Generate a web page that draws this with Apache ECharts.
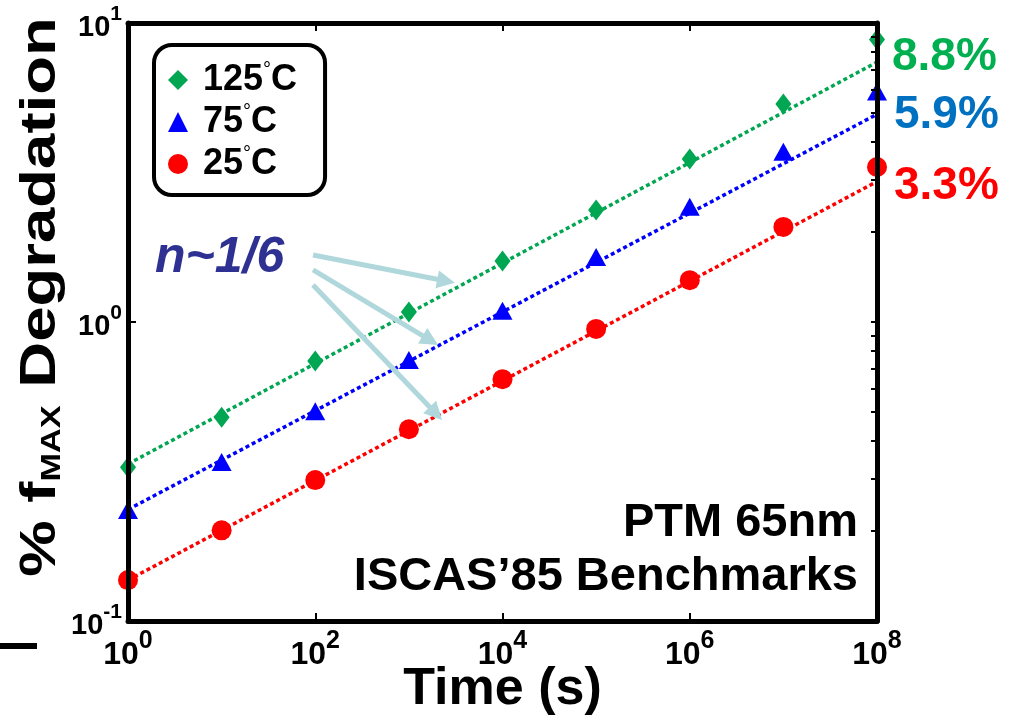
<!DOCTYPE html>
<html>
<head>
<meta charset="utf-8">
<script src="https://cdn.jsdelivr.net/npm/echarts@6/dist/echarts.min.js"></script>
<style>
  html, body { margin: 0; padding: 0; background: #fff; }
  #chart { width: 1017px; height: 716px; }
</style>
</head>
<body>
<div id="chart"></div>
<script>
// Stress time (s) and measured fMAX degradation (%) per temperature
const times = [1, 1e1, 1e2, 1e3, 1e4, 1e5, 1e6, 1e7, 1e8];
const deg125 = [0.327, 0.48, 0.741, 1.08, 1.6, 2.37, 3.51, 5.36, 8.8];
const deg75 = [0.235, 0.34, 0.503, 0.746, 1.09, 1.65, 2.43, 3.71, 5.9];
const deg25 = [0.137, 0.201, 0.296, 0.438, 0.644, 0.948, 1.38, 2.08, 3.3];

// Power-law fits (straight on log-log), given by their end points
const fitTimes = [1, 1e8];
const fit125 = [0.335, 7.4];
const fit75 = [0.236, 4.95];
const fit25 = [0.137, 2.95];

const seriesNames = ['125°C', '75°C', '25°C'];

// Tick values
const xTickValues = [1, 1e2, 1e4, 1e6, 1e8];
const yTickValues = [0.1, 1, 10];
const yMinorTickValues = [0.2, 0.3, 0.4, 0.5, 0.6, 0.7, 0.8, 0.9, 2, 3, 4, 5, 6, 7, 8, 9];

// "n~1/6" pointer arrows: start and head points in data coordinates [time, %]
const arrowStarts = [[94.7, 1.675], [94.7, 1.493], [94.7, 1.33]];
const arrowHeads = [[2496, 1.371], [1698, 0.868], [1942, 0.494]];

const FONT = '"Liberation Sans", Arial, Helvetica, sans-serif';
const GREEN = '#00a651';
const BLUE = '#0000ff';
const RED = '#ff0000';

function pairs(xs, ys) {
  return xs.map((x, i) => [x, ys[i]]);
}

// last point carries its value as a percentage label
function markerData(ys, labelColor, offset) {
  const d = pairs(times, ys);
  const last = d.length - 1;
  d[last] = {
    value: d[last],
    label: {
      show: true,
      position: 'right',
      distance: 7,
      offset: offset,
      color: labelColor,
      fontSize: 46,
      fontWeight: 'bold',
      fontFamily: FONT,
      formatter: p => p.value[1] + '%'
    }
  };
  return d;
}

function powLabel(v) {
  const e = Math.round(Math.log10(v));
  return '{b|10}{s|' + e + '}';
}

const chart = echarts.init(document.getElementById('chart'));

const grid = { left: 128, top: 23, width: 749, height: 598, containLabel: false, outerBoundsMode: 'none' };

const logX = { type: 'log', logBase: 10, min: 1, max: 1e8, gridIndex: 0 };
const logY = { type: 'log', logBase: 10, min: 0.1, max: 10, gridIndex: 0 };
const blackLine = { show: true, lineStyle: { color: '#000', width: 5 } };

const fitLineStyle = color => ({ color: color, width: 3.5, type: [4, 3] });

chart.setOption({
  animation: false,
  grid: grid,
  xAxis: [
    Object.assign({}, logX, {
      position: 'bottom',
      z: 10,
      axisLine: blackLine,
      axisTick: { show: true, inside: true, length: 8, lineStyle: { color: '#000', width: 2 }, customValues: xTickValues },
      axisLabel: {
        customValues: xTickValues,
        formatter: powLabel,
        margin: 8,
        rich: {
          b: { fontSize: 32, fontWeight: 'bold', fontFamily: FONT, color: '#000', lineHeight: 42, verticalAlign: 'bottom' },
          s: { fontSize: 25, fontWeight: 'bold', fontFamily: FONT, color: '#000', lineHeight: 42, verticalAlign: 'top' }
        }
      },
      splitLine: { show: false },
      name: 'Time (s)',
      nameLocation: 'middle',
      nameGap: 43,
      nameMoveOverlap: false,
      nameTextStyle: { fontSize: 52, fontWeight: 'bold', fontFamily: FONT, color: '#000' }
    }),
    Object.assign({}, logX, {
      position: 'top',
      z: 10,
      axisLine: blackLine,
      axisTick: { show: true, inside: true, length: 8, lineStyle: { color: '#000', width: 2 }, customValues: xTickValues },
      axisLabel: { show: false },
      splitLine: { show: false }
    })
  ],
  yAxis: [
    Object.assign({}, logY, {
      position: 'left',
      z: 10,
      axisLine: blackLine,
      axisTick: { show: true, inside: true, length: 8, lineStyle: { color: '#000', width: 2 }, customValues: yTickValues },
      axisLabel: {
        customValues: yTickValues,
        formatter: powLabel,
        margin: 6,
        rich: {
          b: { fontSize: 29, fontWeight: 'bold', fontFamily: FONT, color: '#000', lineHeight: 38, verticalAlign: 'bottom' },
          s: { fontSize: 21, fontWeight: 'bold', fontFamily: FONT, color: '#000', lineHeight: 38, verticalAlign: 'top' }
        }
      },
      splitLine: { show: false }
    }),
    Object.assign({}, logY, {
      position: 'right',
      z: 10,
      axisLine: blackLine,
      axisTick: { show: true, inside: true, length: 6, lineStyle: { color: '#000', width: 2 }, customValues: yTickValues.concat(yMinorTickValues) },
      axisLabel: { show: false },
      splitLine: { show: false }
    })
  ],
  legend: {
    orient: 'vertical',
    left: 154,
    top: 45,
    data: [
      { name: seriesNames[0], icon: 'diamond' },
      { name: seriesNames[1], icon: 'triangle' },
      { name: seriesNames[2], icon: 'circle' }
    ],
    itemWidth: 20,
    itemHeight: 20,
    itemGap: 4,
    padding: [15, 28, 13, 14],
    borderColor: '#000',
    borderWidth: 4,
    borderRadius: 18,
    selectedMode: false,
    formatter: name => '{g|}{t|' + name.replace('°C', '') + '}{d|°}{t|C}',
    textStyle: {
      rich: {
        g: { width: 10 },
        t: { fontSize: 36, fontWeight: 'bold', fontFamily: FONT, color: '#000', lineHeight: 40 },
        d: { fontSize: 20, fontFamily: FONT, color: '#000', lineHeight: 40, verticalAlign: 'top' }
      }
    }
  },
  series: [
    {
      type: 'line', name: 'fit125', data: pairs(fitTimes, fit125), symbol: 'none',
      lineStyle: fitLineStyle(GREEN), z: 2, silent: true,
      markLine: {
        silent: true,
        symbol: ['none', 'triangle'],
        symbolSize: [18, 18],
        label: { show: false },
        lineStyle: { color: '#b0d8dc', width: 5, type: 'solid' },
        data: arrowStarts.map((s, i) => [{ coord: s }, { coord: arrowHeads[i] }])
      }
    },
    { type: 'line', name: 'fit75', data: pairs(fitTimes, fit75), symbol: 'none', lineStyle: fitLineStyle(BLUE), z: 2, silent: true },
    { type: 'line', name: 'fit25', data: pairs(fitTimes, fit25), symbol: 'none', lineStyle: fitLineStyle(RED), z: 2, silent: true },
    {
      type: 'scatter', name: seriesNames[0], symbol: 'diamond', symbolSize: [16, 21],
      itemStyle: { color: GREEN, opacity: 1 }, z: 4,
      data: markerData(deg125, '#00b050', [0, 18])
    },
    {
      type: 'scatter', name: seriesNames[1], symbol: 'triangle', symbolSize: [20, 18],
      itemStyle: { color: BLUE, opacity: 1 }, z: 4,
      data: markerData(deg75, '#0070c0', [0, 24])
    },
    {
      type: 'scatter', name: seriesNames[2], symbol: 'circle', symbolSize: 20,
      itemStyle: { color: RED, opacity: 1 }, z: 4,
      data: markerData(deg25, RED, [0, 19])
    }
  ],
  graphic: [
    {
      type: 'text',
      x: 38, y: 297,
      rotation: Math.PI / 2,
      scaleX: 1.27,
      z: 20,
      style: {
        text: '{a|% f}{s|MAX}{a| Degradation}',
        textAlign: 'center',
        textVerticalAlign: 'middle',
        fill: '#000',
        rich: {
          a: { fontSize: 50, fontWeight: 'bold', fontFamily: FONT, fill: '#000', lineHeight: 56, verticalAlign: 'bottom' },
          s: { fontSize: 27, fontWeight: 'bold', fontFamily: FONT, fill: '#000', lineHeight: 56, verticalAlign: 'bottom' }
        }
      }
    },
    {
      type: 'text', x: 155, y: 258, z: 20,
      style: { text: 'n~1/6', font: 'italic bold 50px ' + FONT, fill: '#2e3192', textAlign: 'left', textVerticalAlign: 'middle' }
    },
    {
      type: 'text', x: 858, y: 523, z: 20,
      style: { text: 'PTM 65nm', font: 'bold 47px ' + FONT, fill: '#000', textAlign: 'right', textVerticalAlign: 'middle' }
    },
    {
      type: 'text', x: 858, y: 577, z: 20,
      style: { text: 'ISCAS’85 Benchmarks', font: 'bold 47px ' + FONT, fill: '#000', textAlign: 'right', textVerticalAlign: 'middle' }
    },
    {
      type: 'rect', z: 20,
      shape: { x: 0, y: 643, width: 37, height: 6 },
      style: { fill: '#000' }
    }
  ]
});
</script>
</body>
</html>
